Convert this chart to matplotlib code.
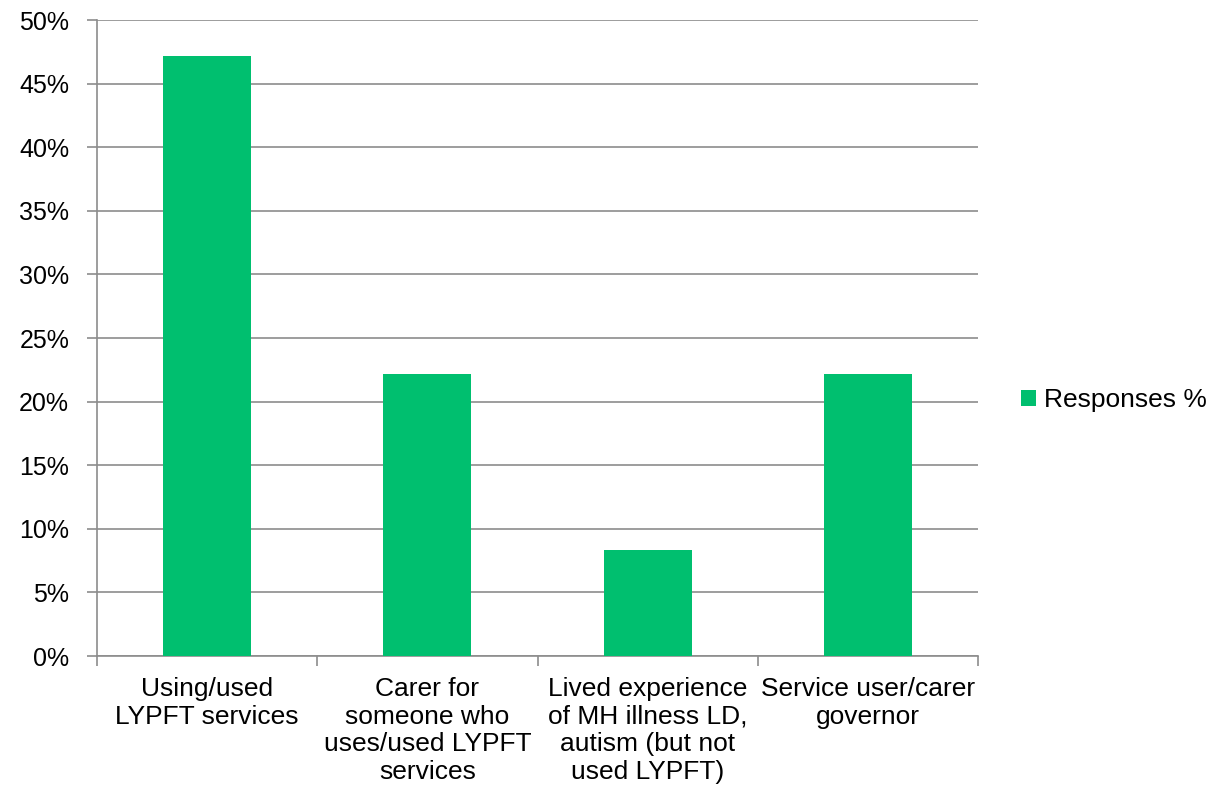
import numpy as np
import matplotlib.pyplot as plt
from matplotlib.ticker import MultipleLocator, FuncFormatter, FixedLocator

plt.rcParams['font.family'] = ['Liberation Sans', 'DejaVu Sans']

categories = [
    "Using/used\nLYPFT services",
    "Carer for\nsomeone who\nuses/used LYPFT\nservices",
    "Lived experience\nof MH illness LD,\nautism (but not\nused LYPFT)",
    "Service user/carer\ngovernor",
]
responses = [47.2, 22.2, 8.3, 22.2]

bar_color = '#00BF6F'
grid_color = '#8C8C8C'
fs = 19

fig = plt.figure(figsize=(12.3, 7.92), dpi=100)
ax = fig.add_axes([97 / 1230, 1 - 656 / 792, (978 - 97) / 1230, (656 - 20) / 792])

x = np.arange(len(categories))
ax.bar(x, responses, width=0.4, color=bar_color, label='Responses %', zorder=3)

ax.set_xlim(-0.5, len(categories) - 0.5)
ax.set_ylim(0, 50)
ax.yaxis.set_major_locator(MultipleLocator(5))
ax.yaxis.set_major_formatter(FuncFormatter(lambda v, p: f"{v:.0f}%"))
ax.grid(axis='y', color=grid_color, linewidth=1.2, zorder=0)

# category labels centred, tick marks on the boundaries
ax.set_xticks(x)
ax.set_xticklabels(categories, fontsize=fs, linespacing=1.2)
ax.tick_params(axis='x', which='major', length=0, pad=15)
ax.xaxis.set_minor_locator(FixedLocator(np.arange(-0.5, len(categories), 1.0)))
ax.tick_params(axis='x', which='minor', length=7, color=grid_color, width=1.2,
               direction='out')
ax.tick_params(axis='y', length=7, color=grid_color, width=1.2, labelsize=18, pad=13)

for side in ['top', 'right']:
    ax.spines[side].set_visible(False)
for side in ['left', 'bottom']:
    ax.spines[side].set_color(grid_color)
    ax.spines[side].set_linewidth(1.2)

ax.legend(loc='center left', bbox_to_anchor=(1.049, 0.4025), frameon=False,
          fontsize=fs, handlelength=0.55, handleheight=0.55, handletextpad=0.3,
          borderaxespad=0, borderpad=0)

fig.savefig('out.png', dpi=100)
